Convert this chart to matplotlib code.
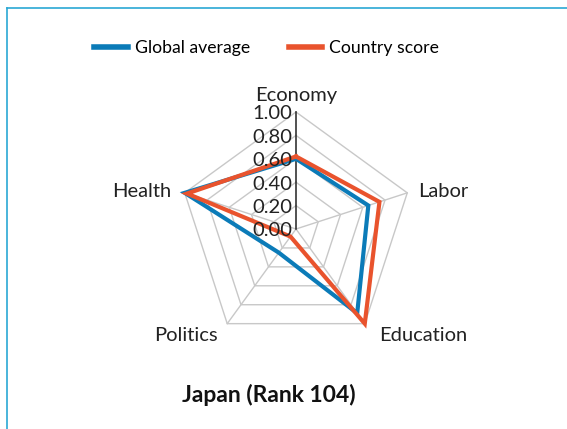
import matplotlib.pyplot as plt
from matplotlib.lines import Line2D
import numpy as np

plt.rcParams['font.family'] = ['Lato', 'DejaVu Sans']

categories = ['Economy', 'Labor', 'Education', 'Politics', 'Health']
global_avg = [0.60, 0.65, 0.89, 0.25, 1.00]
country = [0.62, 0.75, 1.00, 0.08, 0.98]
ticks = [0.0, 0.2, 0.4, 0.6, 0.8, 1.0]
title = 'Japan (Rank 104)'

blue = '#0b7bb8'
orange = '#e9532d'
grid_c = '#c8c8c8'
text_c = '#222222'

# spokes start at the top and go clockwise
angles = np.pi / 2 - np.arange(len(categories)) * 2 * np.pi / len(categories)


def to_xy(vals):
    vals = np.asarray(vals, dtype=float)
    x = vals * np.cos(angles)
    y = vals * np.sin(angles)
    return np.append(x, x[0]), np.append(y, y[0])


W, H = 567, 429
cx, cy, R = 296, 229, 117  # centre and outer radius in pixels

fig = plt.figure(figsize=(W / 100, H / 100), dpi=100)
ax = fig.add_axes([0, 0, 1, 1])
ax.set_xlim(-cx / R, (W - cx) / R)
ax.set_ylim(-(H - cy) / R, cy / R)
ax.axis('off')

# pentagon rings
for t in ticks[1:]:
    gx, gy = to_xy([t] * len(categories))
    ax.plot(gx, gy, color=grid_c, lw=1, zorder=1)

# spokes
for i, a in enumerate(angles):
    if i == 0:
        continue
    ax.plot([0, np.cos(a)], [0, np.sin(a)], color=grid_c, lw=1, zorder=1)

# value axis along the first spoke
ax.plot([0, 0], [0, 1], color=text_c, lw=1.1, zorder=2)
for t in ticks:
    ax.annotate(f'{t:.2f}', (0, t), xytext=(-4, -2), textcoords='offset pixels',
                ha='right', va='center', fontsize=14.5,
                color=text_c, zorder=5)

bx, by = to_xy(global_avg)
ax.plot(bx, by, color=blue, lw=3, solid_joinstyle='miter', zorder=3)
ox, oy = to_xy(country)
ax.plot(ox, oy, color=orange, lw=3, solid_joinstyle='miter', zorder=4)

# category labels
offsets = [(0, 16, 'center'), (11, 1, 'left'), (14, -12, 'left'),
           (-9, -12, 'right'), (-13, 1, 'right')]
for name, a, (dx, dy, ha) in zip(categories, angles, offsets):
    ax.annotate(name, (np.cos(a), np.sin(a)), xytext=(dx, dy),
                textcoords='offset pixels', ha=ha, va='center',
                fontsize=14.5, color=text_c)

handles = [Line2D([], [], color=blue, lw=4, label='Global average'),
           Line2D([], [], color=orange, lw=4, label='Country score')]
fig.legend(handles=handles, loc='center', ncol=2, frameon=False,
           bbox_to_anchor=(266.5 / W, 1 - 48 / H), fontsize=12.7,
           handlelength=1.9, handletextpad=0.4, columnspacing=2.2)

fig.text(268.5 / W, 1 - 395 / H, title, ha='center', va='center',
         fontsize=16.5, fontweight='bold', color='#111111')

# frame lines along the top and left edges
frame_c = '#2aa8d4'
fig.add_artist(Line2D([7 / W, 1], [1 - 8 / H, 1 - 8 / H], color=frame_c, lw=1.2,
                      transform=fig.transFigure))
fig.add_artist(Line2D([7 / W, 7 / W], [0, 1 - 8 / H], color=frame_c, lw=1.2,
                      transform=fig.transFigure))

fig.savefig('out.png', dpi=100)
